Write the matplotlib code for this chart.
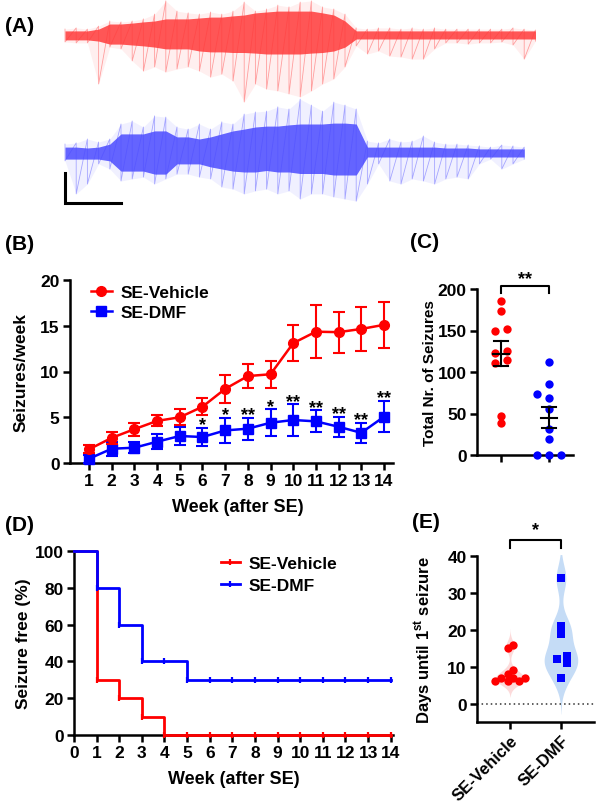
#seizure figure: EEG traces, weekly seizures, totals, seizure-free curve, latency
import numpy as np
import matplotlib
matplotlib.use("Agg")
from matplotlib import pyplot as plt
from matplotlib.lines import Line2D

plt.rcParams['font.family']=['Liberation Sans','DejaVu Sans']
plt.rcParams['font.weight']='bold'
plt.rcParams['axes.labelweight']='bold'
plt.rcParams['mathtext.fontset']='custom'
plt.rcParams['mathtext.rm']='Liberation Sans:bold'
plt.rcParams['mathtext.bf']='Liberation Sans:bold'
plt.rcParams['axes.linewidth']=1.8
for a in ['xtick','ytick']:
    plt.rcParams[a+'.major.width']=1.8
    plt.rcParams[a+'.major.size']=5
    plt.rcParams[a+'.labelsize']=12.5
    plt.rcParams[a+'.major.pad']=2.5

RED='#ff0000'
BLUE='#0000ff'
groups=['SE-Vehicle','SE-DMF']

#(A) EEG envelopes (mV around baseline), read every 2 s
t_veh=np.arange(0,86,2)
veh_top=[0.23,0.27,0.23,0.33,0.5,0.47,0.5,0.57,0.73,1.17,0.83,0.77,0.73,0.8,0.73,0.83,1.13,0.83,0.9,1.03,0.97,1.13,
         1.17,0.97,0.9,0.73,0.27,0.23,0.27,0.27,0.23,0.27,0.23,0.27,0.23,0.23,0.23,0.23,0.23,0.23,0.27,0.23,0.2]
veh_bot=[-0.2,-0.23,-0.23,-1.6,-0.37,-0.43,-0.83,-1.17,-1.03,-1.2,-1.1,-1.03,-1.17,-1.37,-1.27,-1.5,-2.2,-1.6,-1.77,
         -1.83,-1.93,-2.03,-1.83,-1.6,-1.43,-1.03,-0.33,-0.6,-0.5,-0.67,-0.7,-0.77,-0.77,-0.43,-0.23,-0.23,-0.27,-0.23,
         -0.23,-0.2,-0.3,-0.77,-0.17]
veh_core_top=[0.17,0.17,0.17,0.23,0.4,0.4,0.43,0.47,0.5,0.57,0.57,0.57,0.6,0.63,0.63,0.67,0.7,0.77,0.8,0.83,0.83,0.83,
              0.83,0.77,0.7,0.5]+[0.17]*17
veh_core_bot=[-0.13,-0.13,-0.13,-0.17,-0.27,-0.27,-0.3,-0.33,-0.37,-0.43,-0.43,-0.43,-0.5,-0.53,-0.53,-0.55,-0.55,-0.57,
              -0.6,-0.6,-0.6,-0.6,-0.57,-0.55,-0.5,-0.37]+[-0.1]*17
t_dmf=np.arange(0,84,2)
dmf_top=[0.33,0.37,0.5,0.4,0.5,1.0,1.1,0.9,1.27,1.23,0.9,0.83,1.0,0.83,1.07,1.0,1.33,1.4,1.43,1.57,1.5,1.83,1.63,1.43,
         1.73,1.63,1.5,0.43,0.37,0.5,0.4,0.43,0.6,0.4,0.33,0.33,0.3,0.27,0.23,0.3,0.27,0.23]
dmf_bot=[-0.23,-1.33,-1.0,-0.33,-0.5,-0.9,-0.83,-0.77,-1.0,-0.83,-0.67,-0.67,-0.77,-0.83,-1.1,-1.17,-1.33,-1.23,-1.17,
         -1.33,-1.23,-1.5,-1.33,-1.33,-1.43,-1.5,-1.57,-1.0,-0.33,-0.9,-1.0,-0.83,-0.9,-1.0,-0.83,-0.77,-0.83,-0.33,
         -0.17,-0.5,-0.33,-0.17]
dmf_core_top=[0.23,0.23,0.2,0.23,0.33,0.67,0.67,0.67,0.77,0.77,0.57,0.57,0.5,0.57,0.67,0.77,0.83,0.9,0.93,0.93,0.97,
              1.0,1.0,1.0,1.03,1.03,1.0]+[0.23]*7+[0.2]*3+[0.17]*5
dmf_core_bot=[-0.17,-0.17,-0.17,-0.17,-0.23,-0.57,-0.57,-0.57,-0.67,-0.67,-0.33,-0.33,-0.33,-0.43,-0.5,-0.57,-0.6,-0.6,
              -0.55,-0.6,-0.6,-0.65,-0.65,-0.65,-0.7,-0.7,-0.7]+[-0.1]*15
scalebar_s=10
scalebar_mv=1

#(B) seizures per week, mean +- SEM
weeks=np.arange(1,15)
veh_mean=[1.5,2.75,3.7,4.6,5.0,6.15,8.1,9.5,9.7,13.1,14.35,14.3,14.65,15.1]
veh_sem=[0.45,0.65,0.7,0.6,0.85,0.9,1.5,1.35,1.5,1.95,2.9,2.25,2.4,2.5]
dmf_mean=[0.47,1.56,1.67,2.33,2.95,2.84,3.56,3.75,4.4,4.7,4.55,3.96,3.3,5.05]
dmf_sem=[0.45,0.75,0.6,0.85,0.95,1.0,1.4,1.2,1.45,1.7,1.2,1.1,1.1,1.7]
dmf_stars=['','','','','','*','*','**','*','**','**','**','**','**']

#(C) total seizures per animal
veh_total=[186,173,150,151.5,122.6,125,111.4,114,47.5,38.7]
veh_total_dx=[0,0,-0.13,0.13,-0.13,0.13,-0.13,0.13,0,0]
dmf_total=[112,86,74,69,56,31,19,0,0,0]
dmf_total_dx=[0,0,-0.26,0,0,0,0,-0.26,0,0.26]

#(D) seizure free (%)
km_weeks=np.arange(0,15)
veh_free=[100,30,20,10,0,0,0,0,0,0,0,0,0,0,0]
dmf_free=[100,80,60,40,40,30,30,30,30,30,30,30,30,30,30]

#(E) days until first seizure
veh_days=[6,7,8,6,9,7,6,7,15,16]
veh_days_dx=[-0.29,-0.17,-0.05,-0.05,0.05,0.05,0.17,0.29,-0.05,0.05]
dmf_days=[34,21,19,12,13,11,7]
dmf_days_dx=[0,0,0,-0.085,0.11,0.11,0]

fig=plt.figure(figsize=(5.97,8.04),dpi=100)
W,H=597.,804.
def px_axes(x0,y0,x1,y1):
    return fig.add_axes([x0/W,1-y1/H,(x1-x0)/W,(y1-y0)/H])
def clean(ax):
    ax.spines['top'].set_visible(False)
    ax.spines['right'].set_visible(False)

#---- (A)
axA=px_axes(0,0,597,215)
axA.axis('off')
axA.set_xlim(-65/5.6,(597-65)/5.6)
axA.set_ylim((37-215)/30.,37/30.)
def trace(t,top,bot,ctop,cbot,base,col):
    t=np.asarray(t); top=np.asarray(top)+base; bot=np.asarray(bot)+base
    axA.fill_between(t,bot,top,color=col,alpha=0.08,lw=0)
    #zigzag between the spike extremes, like the raw trace
    axA.plot(np.repeat(t,2),np.column_stack([top,bot]).ravel(),color=col,alpha=0.45,lw=0.6)
    axA.fill_between(t,np.asarray(cbot)+base,np.asarray(ctop)+base,color=col,alpha=0.85,lw=0)
trace(t_veh,veh_top,veh_bot,veh_core_top,veh_core_bot,0,'#ff3b3b')
trace(t_dmf,dmf_top,dmf_bot,dmf_core_top,dmf_core_bot,-118/30.,'#4b4bff')
sb_y=(37-204)/30.
axA.plot([0,0,scalebar_s],[sb_y+scalebar_mv,sb_y,sb_y],color='black',lw=2.2,solid_joinstyle='miter')

#---- (B)
axB=px_axes(70,281,393,464)
clean(axB)
axB.errorbar(weeks,dmf_mean,yerr=dmf_sem,color=BLUE,marker='s',ms=6.5,lw=1.8,elinewidth=1.5,
             capsize=4,capthick=1.5,clip_on=False,zorder=3)
axB.errorbar(weeks,veh_mean,yerr=veh_sem,color=RED,marker='o',ms=7,lw=1.8,elinewidth=1.5,
             capsize=4,capthick=1.5,clip_on=False,zorder=4)
for w,m,s,st in zip(weeks,dmf_mean,dmf_sem,dmf_stars):
    if st:
        axB.text(w,m+s+0.35,st,ha='center',va='center',fontsize=13)
axB.set_xlim(0.16,14.4)
axB.set_ylim(0,20)
axB.set_yticks([0,5,10,15,20])
axB.set_xticks(weeks)
axB.set_ylabel('Seizures/week',fontsize=12.5)
axB.yaxis.set_label_coords((29-70)/323.,0.5)
axB.set_xlabel('Week (after SE)',fontsize=13)
axB.xaxis.set_label_coords(0.52,(464-499)/183.)
hB=[Line2D([],[],color=RED,marker='o',ms=7,lw=1.8),Line2D([],[],color=BLUE,marker='s',ms=6.5,lw=1.8)]
axB.legend(hB,groups,loc='upper left',bbox_to_anchor=(0.065,0.975),frameon=False,fontsize=12.5,
           handlelength=1.2,handletextpad=0.5,labelspacing=0.3,borderpad=0,borderaxespad=0)

#---- (C)
axC=px_axes(477,290,573,456)
clean(axC)
for i,(vals,dx,col) in enumerate([(veh_total,veh_total_dx,RED),(dmf_total,dmf_total_dx,BLUE)]):
    axC.scatter(i+np.asarray(dx),vals,s=36,color=col,zorder=3,clip_on=False,linewidths=0)
    m=np.mean(vals); se=np.std(vals,ddof=1)/np.sqrt(len(vals))
    axC.plot([i-0.17,i+0.17],[m,m],color='black',lw=1.5,zorder=4)
    axC.plot([i,i],[m-se,m+se],color='black',lw=1.5,zorder=4)
    for v in (m-se,m+se):
        axC.plot([i-0.14,i+0.14],[v,v],color='black',lw=1.5,zorder=4)
axC.plot([0,0,1,1],[195,204,204,195],color='black',lw=1.5,clip_on=False)
axC.text(0.5,212,'**',ha='center',va='center',fontsize=13)
axC.set_xlim(-0.5,1.5)
axC.set_ylim(0,200)
axC.set_yticks([0,50,100,150,200])
axC.set_xticks([0,1])
axC.set_xticklabels(['',''])
axC.set_ylabel('Total Nr. of Seizures',fontsize=11)
axC.yaxis.set_label_coords((437-477)/96.,0.5)

#---- (D)
axD=px_axes(74,552,393,736)
clean(axD)
for vals,col in [(veh_free,RED),(dmf_free,BLUE)]:
    axD.step(km_weeks,vals,where='post',color=col,lw=2,clip_on=False,zorder=3)
    axD.plot(km_weeks[1:],vals[1:],ls='none',marker='|',ms=5,mew=1.6,color=col,clip_on=False,zorder=3)
axD.set_xlim(0,14.1)
axD.set_ylim(0,100)
axD.set_xticks(km_weeks)
axD.set_yticks([0,20,40,60,80,100])
axD.set_ylabel('Seizure free (%)',fontsize=12.5)
axD.yaxis.set_label_coords((31-74)/319.,0.5)
axD.set_xlabel('Week (after SE)',fontsize=13)
axD.xaxis.set_label_coords(0.5,(736-771)/184.)
hD=[Line2D([],[],color=RED,lw=2,marker='|',ms=5,mew=1.6),Line2D([],[],color=BLUE,lw=2,marker='|',ms=5,mew=1.6)]
axD.legend(hD,groups,loc='upper left',bbox_to_anchor=(0.46,0.975),frameon=False,fontsize=12.5,
           handlelength=1.1,handletextpad=0.5,labelspacing=0.4,borderpad=0,borderaxespad=0)

#---- (E)
axE=px_axes(477,557.3,594,723)
clean(axE)
def violin(ax,x,vals,bw,cut,halfw,col):
    vals=np.asarray(vals,float)
    y=np.linspace(vals.min()-cut[0]*bw,vals.max()+cut[1]*bw,300)
    d=np.exp(-0.5*((y[:,None]-vals[None,:])/bw)**2).sum(axis=1)
    d=d/d.max()*halfw
    ax.fill_betweenx(y,x-d,x+d,color=col,lw=0,zorder=1,clip_on=False)
violin(axE,0,veh_days,1.5,(2.8,2.9),0.29,'#fcdada')
violin(axE,1,dmf_days,3.5,(2.8,1.85),0.33,'#c5dcf6')
axE.axhline(0,color='#333333',ls=(0,(1,2)),lw=1.1,zorder=2)
axE.scatter(0+np.asarray(veh_days_dx),veh_days,s=36,color=RED,zorder=3,linewidths=0)
axE.scatter(1+np.asarray(dmf_days_dx),dmf_days,s=34,marker='s',color=BLUE,zorder=3,linewidths=0)
axE.plot([0,0,1,1],[42.3,44.3,44.3,42.3],color='black',lw=1.5,clip_on=False)
axE.text(0.5,47.3,'*',ha='center',va='center',fontsize=13)
axE.set_xlim(-0.65,1.65)
axE.set_ylim(-5,40)
axE.set_yticks([0,10,20,30,40])
axE.set_xticks([0,1])
axE.set_xticklabels(groups,rotation=45,ha='right',va='top',rotation_mode='anchor',fontsize=12)
axE.set_ylabel(r'Days until 1$^{\mathbf{st}}$ seizure',fontsize=12)
axE.yaxis.set_label_coords((436-477)/117.,0.5)

for lab,x,y in [('(A)',5,27),('(B)',5,244),('(C)',410,242),('(D)',5,526),('(E)',412,523)]:
    fig.text(x/W,1-y/H,lab,fontsize=15,va='center',ha='left')

fig.savefig('out.png',dpi=100)
